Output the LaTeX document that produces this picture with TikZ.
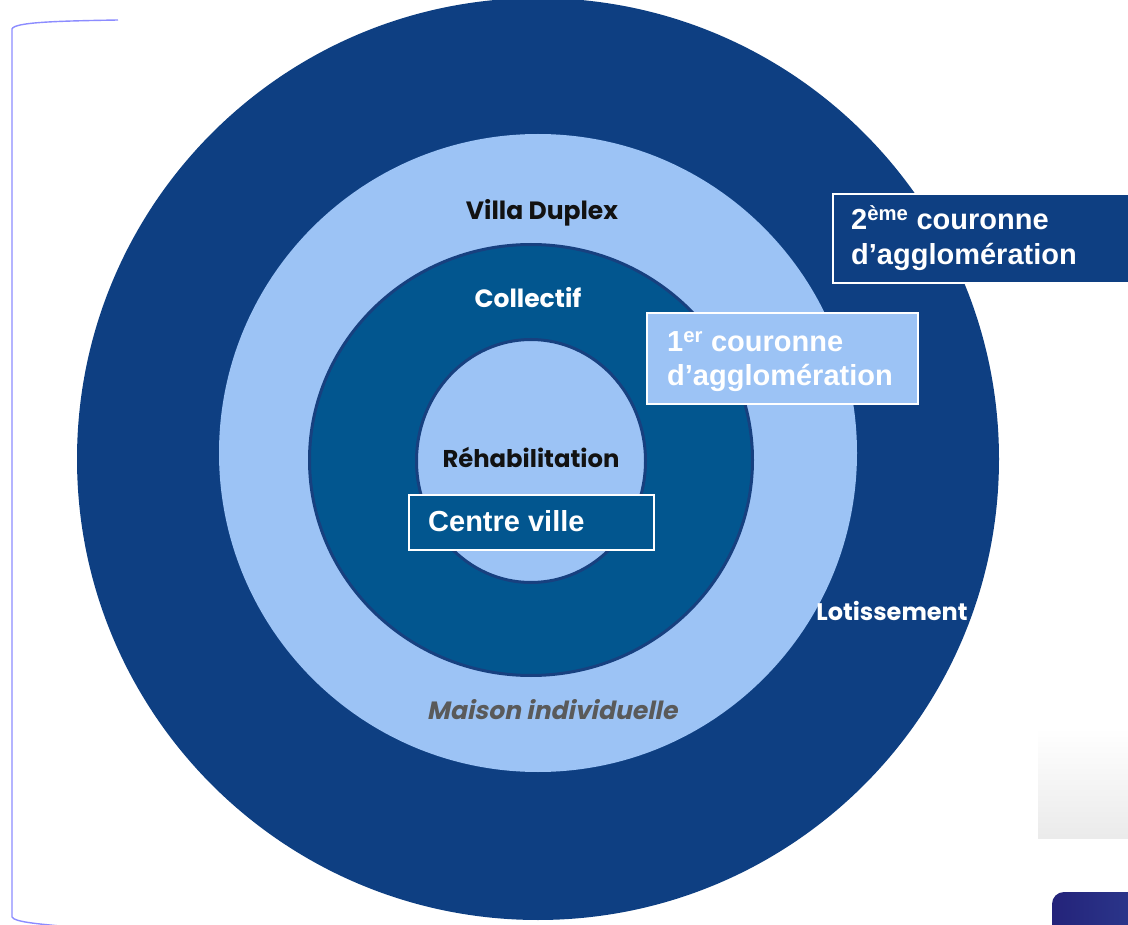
\documentclass[tikz,border=0pt]{standalone}
\usepackage{fontspec}
\newfontfamily\arial{Liberation Sans}
\newfontfamily\gothic{Poppins}
\newfontfamily\gothicsl{Poppins}[FakeSlant=0.2]
\definecolor{ringouter}{HTML}{0E3F82}
\definecolor{ringlight}{HTML}{9CC3F5}
\definecolor{ringmid}{HTML}{02568F}
\definecolor{ringedge}{HTML}{17407F}
\definecolor{bracketcol}{HTML}{8C8CFF}
\definecolor{greytext}{HTML}{5A5A5A}
\definecolor{navybtn}{HTML}{24237A}
\definecolor{navybtnb}{HTML}{2C3A8E}
\tikzset{
  zonebox/.style={draw=white, line width=2pt, anchor=north west, inner sep=0pt},
  boxtext/.style={anchor=base west, inner sep=0pt, text=white, font=\arial\bfseries\fontsize{29}{35}\selectfont},
  ringlabel/.style={inner sep=0pt, font=\gothic\bfseries\fontsize{25}{30}\selectfont},
}
\begin{document}
\begin{tikzpicture}[x=1pt, y=-1pt]
  \useasboundingbox (0,0) rectangle (1128,925);
  \fill[white] (0,0) rectangle (1128,925);

  % bracket on the left side
  \draw[bracketcol, line width=1.4pt]
    (118,20) .. controls (60,21) and (14,22) .. (12,29) -- (12,917)
    .. controls (14,922) and (40,924) .. (60,926);

  % partial elements at the lower right
  \shade[top color=white, bottom color=black!8] (1038,728) rectangle (1128,838);
  \shade[left color=navybtn, right color=navybtnb, rounded corners=12pt]
    (1052,892) rectangle (1150,950);

  % concentric zones
  \fill[ringouter] (538,459) circle (461);
  \fill[ringlight] (538,453) circle (319);
  \filldraw[fill=ringmid, draw=ringedge, line width=3pt] (531,460) ellipse [x radius=221.5, y radius=215.5];
  \filldraw[fill=ringlight, draw=ringedge, line width=3pt] (531,461) ellipse [x radius=114.5, y radius=121.5];

  % zone labels
  \node[ringlabel, text=black!93] (villa) at (542,213) {Villa Duplex};
  \node[ringlabel, text=white] (collectif) at (528,298) {Collectif};
  \node[ringlabel, font=\gothic\bfseries\fontsize{24.3}{30}\selectfont, text=black!93] (rehab) at (531,457) {Réhabilitation};
  \node[ringlabel, font=\gothic\bfseries\fontsize{24}{30}\selectfont, text=white] (lotis) at (892,611) {Lotissement};
  \node[ringlabel, font=\gothicsl\bfseries\fontsize{25}{30}\selectfont, text=greytext] (maison) at (552,710) {Maison individuelle};

  % framed captions
  \node[zonebox, fill=ringouter, minimum width=300pt, minimum height=89pt] (box2) at (832,193) {};
  \node[boxtext] (box2a) at (851,230) {2\textsuperscript{ème} couronne};
  \node[boxtext] (box2b) at (851,265) {d’agglomération};

  \node[zonebox, fill=ringlight, minimum width=271pt, minimum height=91pt] (box1) at (646,312) {};
  \node[boxtext] (box1a) at (667,352) {1\textsuperscript{er} couronne};
  \node[boxtext] (box1b) at (667,386) {d’agglomération};

  \node[zonebox, fill=ringmid, minimum width=245pt, minimum height=55pt] (box0) at (408,494) {};
  \node[boxtext] (box0a) at (428,531) {Centre ville};
\end{tikzpicture}
\end{document}
